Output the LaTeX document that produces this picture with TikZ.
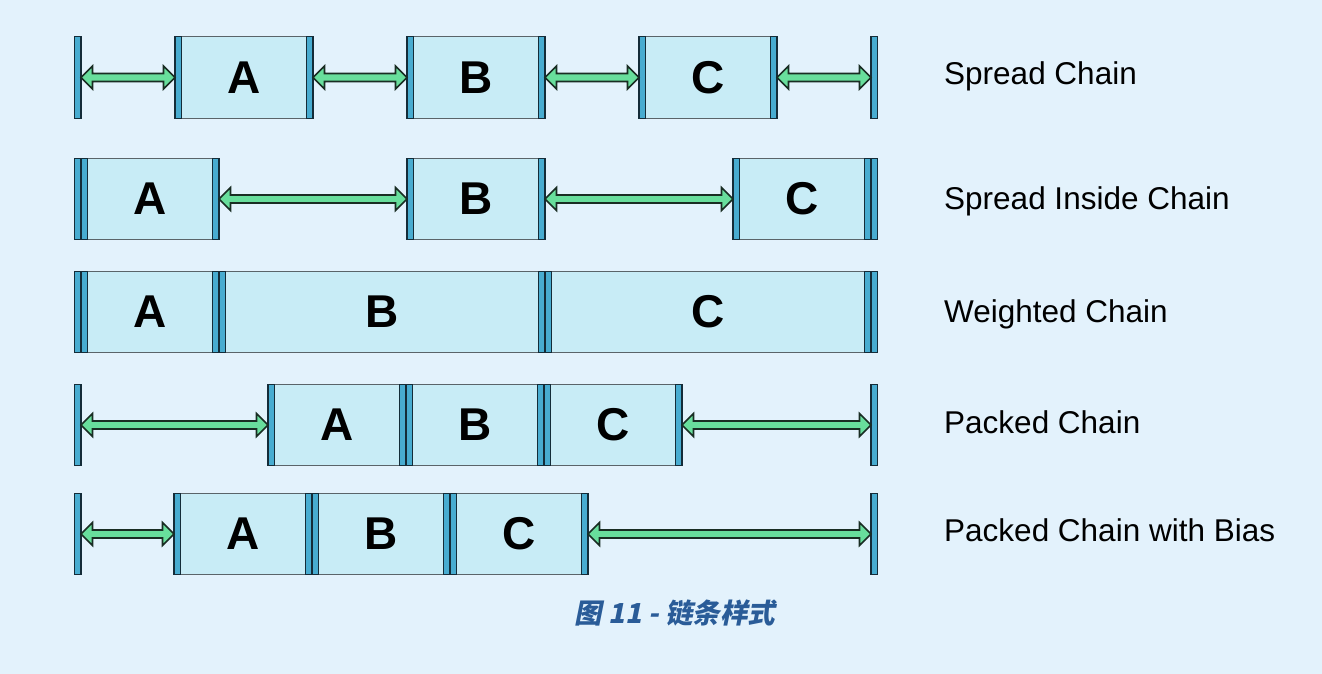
\documentclass[tikz,border=0pt]{standalone}
\usepackage{fontspec}
\setmainfont{Liberation Sans}
\newfontfamily\cjkfont[FakeSlant=0.2]{Noto Sans CJK SC}
\usetikzlibrary{calc}
\definecolor{bgcol}{RGB}{227,242,252}
\definecolor{boxfill}{RGB}{200,236,246}
\definecolor{boxline}{RGB}{90,100,105}
\definecolor{barfill}{RGB}{72,172,208}
\definecolor{barline}{RGB}{20,44,56}
\definecolor{arrfill}{RGB}{104,222,156}
\definecolor{arrline}{RGB}{25,45,35}
\definecolor{capcol}{RGB}{42,92,152}
\tikzset{
  cbox/.style={draw=boxline, fill=boxfill, line width=1.2pt, minimum height=81.5, inner sep=0pt, outer sep=0pt, anchor=west,
    font=\fontsize{46}{46}\selectfont\bfseries},
  cbar/.style={draw=barline, fill=barfill, line width=1.4pt, minimum width=6.5, minimum height=81.5, inner sep=0pt, outer sep=0pt},
  chainlabel/.style={anchor=base west, inner sep=0pt, font=\fontsize{31.5}{31.5}\selectfont},
  fatarrow/.style={draw=arrline, fill=arrfill, line width=1.6pt, line join=miter,
    to path={let \p1=(\tikztostart), \p2=(\tikztotarget) in
      (\p1) -- (\x1+11.5pt,\y1+11.5pt) -- (\x1+11.5pt,\y1+4pt) -- (\x2-11.5pt,\y1+4pt) -- (\x2-11.5pt,\y1+11.5pt)
      -- (\x2,\y1) -- (\x2-11.5pt,\y1-11.5pt) -- (\x2-11.5pt,\y1-4pt) -- (\x1+11.5pt,\y1-4pt) -- (\x1+11.5pt,\y1-11.5pt) -- cycle}}
}
\begin{document}
\begin{tikzpicture}[x=1pt,y=-1pt]
\useasboundingbox (0,0) rectangle (1322,674);
\fill[bgcol] (0,0) rectangle (1322,674);

% ---------- Row 1: Spread Chain ----------
\node[cbox, minimum width=138] (r1A) at (175,77.5) {A};
\node[cbox, minimum width=138] (r1B) at (407,77.5) {B};
\node[cbox, minimum width=138] (r1C) at (639,77.5) {C};
\node[cbar, anchor=east] (r1L) at (81,77.5) {};
\node[cbar, anchor=west] (r1R) at (871,77.5) {};
\foreach \n in {r1A,r1B,r1C}{
  \node[cbar, anchor=west] (\n l) at (\n.west) {};
  \node[cbar, anchor=east] (\n r) at (\n.east) {};
}
\draw[fatarrow] (r1L.east) to (r1A.west);
\draw[fatarrow] (r1A.east) to (r1B.west);
\draw[fatarrow] (r1B.east) to (r1C.west);
\draw[fatarrow] (r1C.east) to (r1R.west);
\node[chainlabel] (t1) at (944,84.5) {Spread Chain};

% ---------- Row 2: Spread Inside Chain ----------
\node[cbox, minimum width=138] (r2A) at (81,199) {A};
\node[cbox, minimum width=138] (r2B) at (407,199) {B};
\node[cbox, minimum width=138] (r2C) at (733,199) {C};
\node[cbar, anchor=east] (r2L) at (81,199) {};
\node[cbar, anchor=west] (r2R) at (871,199) {};
\foreach \n in {r2A,r2B,r2C}{
  \node[cbar, anchor=west] (\n l) at (\n.west) {};
  \node[cbar, anchor=east] (\n r) at (\n.east) {};
}
\draw[fatarrow] (r2A.east) to (r2B.west);
\draw[fatarrow] (r2B.east) to (r2C.west);
\node[chainlabel] (t2) at (944,209) {Spread Inside Chain};

% ---------- Row 3: Weighted Chain ----------
\node[cbox, minimum width=138] (r3A) at (81,312) {A};
\node[cbox, minimum width=326] (r3B) at (219,312) {B};
\node[cbox, minimum width=326] (r3C) at (545,312) {C};
\node[cbar, anchor=east] (r3L) at (81,312) {};
\node[cbar, anchor=west] (r3R) at (871,312) {};
\foreach \n in {r3A,r3B,r3C}{
  \node[cbar, anchor=west] (\n l) at (\n.west) {};
  \node[cbar, anchor=east] (\n r) at (\n.east) {};
}
\node[chainlabel] (t3) at (944,322) {Weighted Chain};

% ---------- Row 4: Packed Chain ----------
\node[cbox, minimum width=138] (r4A) at (268,425) {A};
\node[cbox, minimum width=138] (r4B) at (406,425) {B};
\node[cbox, minimum width=138] (r4C) at (544,425) {C};
\node[cbar, anchor=east] (r4L) at (81,425) {};
\node[cbar, anchor=west] (r4R) at (871,425) {};
\foreach \n in {r4A,r4B,r4C}{
  \node[cbar, anchor=west] (\n l) at (\n.west) {};
  \node[cbar, anchor=east] (\n r) at (\n.east) {};
}
\draw[fatarrow] (r4L.east) to (r4A.west);
\draw[fatarrow] (r4C.east) to (r4R.west);
\node[chainlabel] (t4) at (944,433) {Packed Chain};

% ---------- Row 5: Packed Chain with Bias ----------
\node[cbox, minimum width=138] (r5A) at (174,534) {A};
\node[cbox, minimum width=138] (r5B) at (312,534) {B};
\node[cbox, minimum width=138] (r5C) at (450,534) {C};
\node[cbar, anchor=east] (r5L) at (81,534) {};
\node[cbar, anchor=west] (r5R) at (871,534) {};
\foreach \n in {r5A,r5B,r5C}{
  \node[cbar, anchor=west] (\n l) at (\n.west) {};
  \node[cbar, anchor=east] (\n r) at (\n.east) {};
}
\draw[fatarrow] (r5L.east) to (r5A.west);
\draw[fatarrow] (r5C.east) to (r5R.west);
\node[chainlabel] (t5) at (944,541) {Packed Chain with Bias};

% ---------- Caption ----------
\node[text=capcol, inner sep=0pt, font=\cjkfont\bfseries\fontsize{27.5}{27.5}\selectfont] (cap) at (675,613) {图 11 - 链条样式};
\end{tikzpicture}
\end{document}
